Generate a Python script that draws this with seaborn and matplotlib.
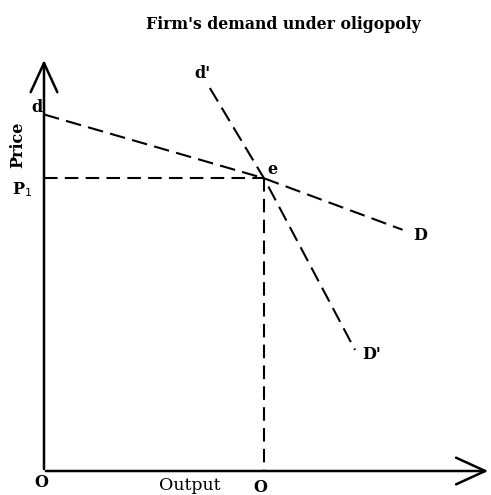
import numpy as np
import pandas as pd
import matplotlib
matplotlib.use("Agg")
import matplotlib.pyplot as plt
import seaborn as sns

# Kinked demand diagram values (output, price)
q_e = 5.0          # equilibrium output Q
p_e = 6.65         # equilibrium price P1
dD_q = [0.0, 5.0, 8.15]      # flat demand d..e..D
dD_p = [8.1, 6.65, 5.48]
steep_q = [3.77, 5.0, 7.07]  # steep demand d'..e..D'
steep_p = [8.70, 6.65, 2.75]
y_top = 9.4
x_end = 10.16

sns.set_theme(style="white")
plt.rcParams['font.family'] = ['DejaVu Serif']

fig = plt.figure(figsize=(4.91, 4.95), dpi=100)
ax = fig.add_axes([0, 0, 1, 1])
ax.set_xlim(-1.0, 10.16)
ax.set_ylim(-0.545, 10.70)
ax.axis('off')

dash = (0, (7.5, 3.5))
flat = pd.DataFrame({"q": dD_q, "p": dD_p})
steep = pd.DataFrame({"q": steep_q, "p": steep_p})
sns.lineplot(data=flat, x="q", y="p", ax=ax, color="black", lw=1.5, linestyle=dash, sort=False)
sns.lineplot(data=steep, x="q", y="p", ax=ax, color="black", lw=1.5, linestyle=dash, sort=False)

# guide lines to the axes
ax.plot([0, q_e], [p_e, p_e], color="black", lw=1.5, linestyle=(0, (6.5, 3.5)))
ax.plot([q_e, q_e], [p_e, 0], color="black", lw=1.5, linestyle=(0, (6.5, 3.5)))

# axes with open arrow heads
ax.annotate("", xy=(0, y_top), xytext=(0, -0.02),
            arrowprops=dict(arrowstyle="->,head_length=1.75,head_width=0.8", color="black", lw=1.8))
ax.annotate("", xy=(x_end, 0), xytext=(-0.02, 0),
            arrowprops=dict(arrowstyle="->,head_length=1.75,head_width=0.8", color="black", lw=1.8))

lab = dict(fontsize=11.5, fontweight="bold", color="black", ha="center", va="center")
ax.text(-0.16, 8.25, "d", **lab)
ax.text(3.6, 9.02, "d'", **lab)
ax.text(5.2, 6.85, "e", **lab)
ax.text(-0.5, 6.4, "P$_1$", **lab)
ax.text(-0.59, 7.4, "Price", rotation=90, **lab)
ax.text(8.55, 5.34, "D", **lab)
ax.text(7.45, 2.64, "D'", **lab)
ax.text(-0.05, -0.27, "O", **lab)
ax.text(3.32, -0.34, "Output", fontsize=12.5, color="black", ha="center", va="center")
ax.text(4.91, -0.37, "O", **lab)

ax.text(5.43, 10.15, "Firm's demand under oligopoly", fontsize=11.3, fontweight="bold",
        color="black", ha="center", va="center")

fig.savefig("out.png", dpi=100, facecolor="white")
